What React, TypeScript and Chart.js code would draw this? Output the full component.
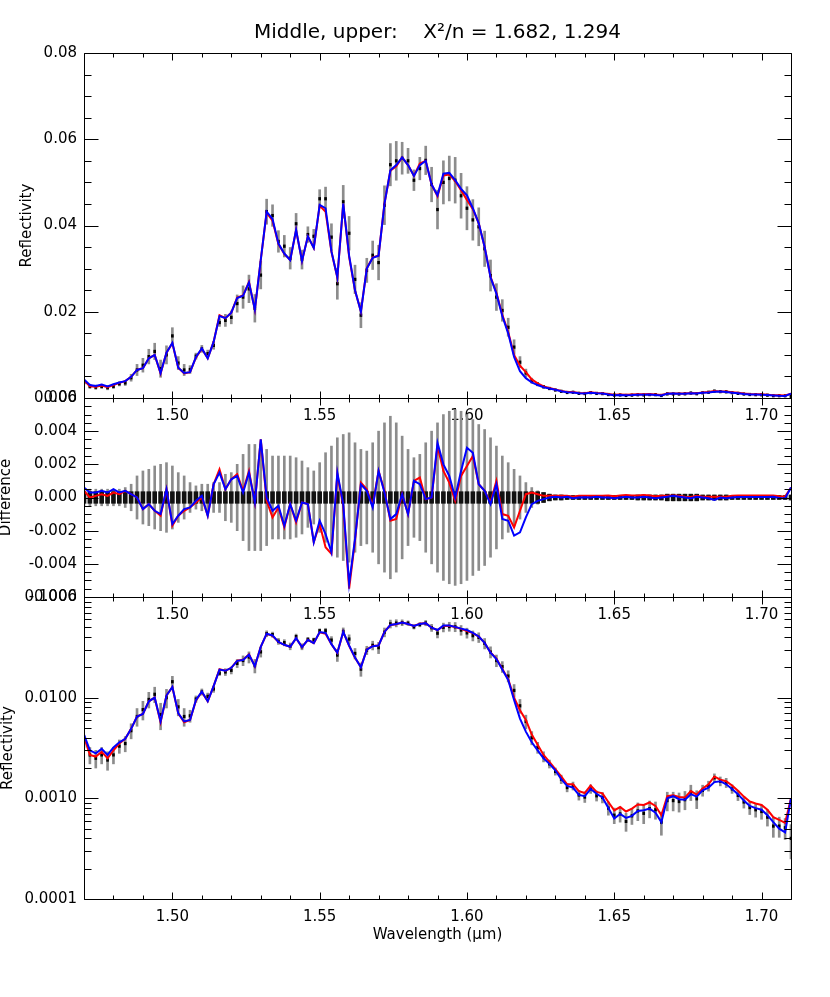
import React, { useEffect, useRef } from 'react';
import { Chart, registerables } from 'chart.js';

Chart.register(...registerables);

// ---------------- data ----------------
const WAVELENGTH = [
  1.470, 1.472, 1.474, 1.476, 1.478, 1.480, 1.482, 1.484, 1.486, 1.488,
  1.490, 1.492, 1.494, 1.496, 1.498, 1.500, 1.502, 1.504, 1.506, 1.508,
  1.510, 1.512, 1.514, 1.516, 1.518, 1.520, 1.522, 1.524, 1.526, 1.528,
  1.530, 1.532, 1.534, 1.536, 1.538, 1.540, 1.542, 1.544, 1.546, 1.548,
  1.550, 1.552, 1.554, 1.556, 1.558, 1.560, 1.562, 1.564, 1.566, 1.568,
  1.570, 1.572, 1.574, 1.576, 1.578, 1.580, 1.582, 1.584, 1.586, 1.588,
  1.590, 1.592, 1.594, 1.596, 1.598, 1.600, 1.602, 1.604, 1.606, 1.608,
  1.610, 1.612, 1.614, 1.616, 1.618, 1.620, 1.622, 1.624, 1.626, 1.628,
  1.630, 1.632, 1.634, 1.636, 1.638, 1.640, 1.642, 1.644, 1.646, 1.648,
  1.650, 1.652, 1.654, 1.656, 1.658, 1.660, 1.662, 1.664, 1.666, 1.668,
  1.670, 1.672, 1.674, 1.676, 1.678, 1.680, 1.682, 1.684, 1.686, 1.688,
  1.690, 1.692, 1.694, 1.696, 1.698, 1.700, 1.702, 1.704, 1.706, 1.708,
  1.710,
];

// blue model reflectivity
const MODEL_BLUE = [
  0.0043, 0.0030, 0.0028, 0.0031, 0.0027, 0.0032, 0.0036, 0.0039, 0.0049, 0.0065,
  0.0069, 0.0092, 0.0100, 0.0058, 0.0105, 0.0128, 0.0070, 0.0058, 0.0060, 0.0095,
  0.0115, 0.0092, 0.0130, 0.0190, 0.0185, 0.0198, 0.0232, 0.0237, 0.0268, 0.0205,
  0.0320, 0.0432, 0.0415, 0.0358, 0.0335, 0.0320, 0.0390, 0.0318, 0.0375, 0.0348,
  0.0448, 0.0440, 0.0340, 0.0280, 0.0451, 0.0330, 0.0250, 0.0200, 0.0300, 0.0325,
  0.0330, 0.0450, 0.0528, 0.0540, 0.0558, 0.0540, 0.0515, 0.0540, 0.0550, 0.0495,
  0.0470, 0.0520, 0.0522, 0.0505, 0.0485, 0.0470, 0.0440, 0.0405, 0.0350, 0.0280,
  0.0242, 0.0190, 0.0150, 0.0095, 0.0062, 0.0046, 0.0036, 0.0030, 0.0025, 0.0022,
  0.00190, 0.00155, 0.00133, 0.00128, 0.00108, 0.00105, 0.00124, 0.00111, 0.00102, 0.00080,
  0.00063, 0.00070, 0.00064, 0.00067, 0.00075, 0.00076, 0.00079, 0.00072, 0.00058, 0.00100,
  0.00105, 0.00098, 0.00097, 0.00110, 0.00104, 0.00120, 0.00128, 0.00145, 0.00148, 0.00138,
  0.00124, 0.00110, 0.00095, 0.00084, 0.00080, 0.00077, 0.00068, 0.00058, 0.00050, 0.00046,
  0.00100,
];

// blue model minus observed
const RESID_BLUE = [
  0.0006, 0.0003, 0.0003, 0.0004, 0.0003, 0.0005, 0.0003, 0.0004, 0.0002, 0.0000,
  -0.0007, -0.0004, -0.0008, -0.0010, 0.0005, -0.0016, -0.0011, -0.0007, -0.0006, -0.0002,
  0.0001, -0.0011, 0.0008, 0.0015, 0.0005, 0.0011, 0.0013, 0.0003, 0.0015, -0.0003,
  0.0035, 0.0000, -0.0008, -0.0005, -0.0017, -0.0004, -0.0014, -0.0003, -0.0004, -0.0027,
  -0.0014, -0.0022, -0.0033, 0.0015, -0.0004, -0.0052, -0.0025, 0.0008, 0.0004, -0.0006,
  0.0016, 0.0003, -0.0013, -0.0010, 0.0002, -0.0010, 0.0010, 0.0008, -0.0001, 0.0000,
  0.0033, 0.0020, 0.0013, 0.0000, 0.0016, 0.0030, 0.0027, 0.0008, 0.0004, -0.0004,
  0.0008, -0.0013, -0.0014, -0.0023, -0.0021, -0.0012, -0.0004, -0.0002, -0.0001, 0.0000,
  0.00005, 0.0, 0.00005, -0.00005, 0.0, 0.00002, 0.0, 0.00005, 0.0, 0.0,
  -0.00005, 0.0, 0.00005, 0.0, 0.0, 0.00005, 0.0, -0.00005, 0.0, 0.00005,
  0.0001, 0.00005, 0.0, -0.00005, 0.00005, 0.0, -0.00005, -0.00015, 0.0, -0.00005,
  0.0, 0.00003, 0.00003, 0.00003, 0.00003, 0.00003, 0.00003, 0.00005, -0.00003, -0.00005,
  0.0006,
];

// red model minus observed
const RESID_RED = [
  0.0004, 0.0000, 0.0001, 0.0002, 0.0001, 0.0003, 0.0002, 0.0004, 0.0002, 0.0000,
  -0.0007, -0.0004, -0.0008, -0.0011, 0.0005, -0.0017, -0.0011, -0.0008, -0.0006, -0.0003,
  0.0000, -0.0011, 0.0008, 0.0017, 0.0005, 0.0011, 0.0014, 0.0004, 0.0016, -0.0003,
  0.0035, -0.0002, -0.0012, -0.0006, -0.0018, -0.0004, -0.0015, -0.0003, -0.0004, -0.0027,
  -0.0016, -0.0030, -0.0034, 0.0014, -0.0005, -0.0055, -0.0026, 0.0009, 0.0005, -0.0005,
  0.0016, 0.0004, -0.0014, -0.0013, 0.0002, -0.0010, 0.0010, 0.0012, -0.0001, 0.0000,
  0.0031, 0.0016, 0.0009, -0.0002, 0.0013, 0.0019, 0.0025, 0.0008, 0.0004, -0.0003,
  0.0010, -0.0010, -0.0011, -0.0018, -0.0008, 0.0002, 0.0003, 0.0002, 0.0001, 0.0001,
  0.0001, 0.0001, 0.0001, 0.00005, 0.0001, 0.0001, 0.0001, 0.0001, 0.0001, 0.00012,
  0.00008, 0.00012, 0.00015, 0.00012, 0.00012, 0.00015, 0.00012, 0.00007, 0.0001, 0.0001,
  0.00012, 0.0001, 0.00005, 0.00003, 0.0001, 0.00005, 0.00005, 0.00005, 0.00005, 0.00005,
  0.0001, 0.00012, 0.00012, 0.00012, 0.00012, 0.00012, 0.00012, 0.00012, 0.00008, 0.00006,
  0.0006,
];

// 1-sigma uncertainty of the observation
const SIGMA = [
  0.0005, 0.0005, 0.0005, 0.0005, 0.0005, 0.0005, 0.0005, 0.0006, 0.0008, 0.0013,
  0.0016, 0.0017, 0.0019, 0.0020, 0.0021, 0.0019, 0.0015, 0.0013, 0.0009, 0.0007,
  0.0008, 0.0008, 0.0009, 0.0009, 0.0014, 0.0015, 0.0020, 0.0026, 0.0032, 0.0032,
  0.0032, 0.0029, 0.0025, 0.0025, 0.0025, 0.0025, 0.0024, 0.0022, 0.0018, 0.0016,
  0.0021, 0.0027, 0.0031, 0.0036, 0.0038, 0.0039, 0.0033, 0.0029, 0.0028, 0.0033,
  0.0040, 0.0045, 0.0049, 0.0045, 0.0037, 0.0029, 0.0024, 0.0026, 0.0033, 0.0040,
  0.0045, 0.0050, 0.0052, 0.0053, 0.0052, 0.0050, 0.0047, 0.0044, 0.0041, 0.0036,
  0.0031, 0.0025, 0.0021, 0.0017, 0.0013, 0.0009, 0.0006, 0.0004, 0.0003, 0.0002,
  0.00015, 0.00015, 0.00012, 0.00012, 0.00012, 0.00012, 0.00012, 0.00012, 0.00012, 0.00012,
  0.00012, 0.00012, 0.00012, 0.00012, 0.00015, 0.00015, 0.00015, 0.00015, 0.00015, 0.0002,
  0.0002, 0.0002, 0.0002, 0.0002, 0.0002, 0.00015, 0.00015, 0.00015, 0.00015, 0.00015,
  0.00012, 0.00012, 0.00012, 0.00012, 0.00012, 0.00012, 0.00012, 0.00012, 0.00012, 0.00012,
  0.00015,
];

const X_TICKS = [1.50, 1.55, 1.60, 1.65, 1.70];
const TOP_Y_TICKS = [0.00, 0.02, 0.04, 0.06, 0.08];
const MID_Y_TICKS = [-0.006, -0.004, -0.002, 0.000, 0.002, 0.004, 0.006];
const LOG_Y_TICKS = [0.0001, 0.001, 0.01, 0.1];

const TITLE = 'Middle, upper:    X\u00B2/n = 1.682, 1.294';
const Y_TITLE_REFL = 'Reflectivity';
const Y_TITLE_DIFF = 'Difference';
const X_TITLE = 'Wavelength (\u03BCm)';

// ---------------- derived tables ----------------
const OBSERVED = MODEL_BLUE.map((b, i) => b - RESID_BLUE[i]);
const MODEL_RED = OBSERVED.map((o, i) => o + RESID_RED[i]);

// minor tick positions (axis decoration)
const X_MINOR: number[] = [];
for (let k = 147; k <= 171; k++) if (k % 5 !== 0) X_MINOR.push(k / 100);
const TOP_Y_MINOR: number[] = [];
for (let k = 1; k < 16; k++) if (k % 4 !== 0) TOP_Y_MINOR.push(k * 0.005);
const MID_Y_MINOR: number[] = [];
for (let k = -11; k < 12; k++) if (k % 4 !== 0) MID_Y_MINOR.push(k * 0.0005);
const LOG_Y_MINOR: number[] = [];
for (const d of [1e-4, 1e-3, 1e-2]) for (let m = 2; m <= 9; m++) LOG_Y_MINOR.push(m * d);

// ---------------- layout ----------------
const W = 830;
const H = 997;
const PLOT_LEFT = 84;
const PLOT_RIGHT = 791;
const FONT = 'DejaVu Sans';
const BLUE = '#0000ff';
const RED = '#ff0000';
const GRAY = '#8c8c8c';

const pts = (ys: number[]) => WAVELENGTH.map((x, i) => ({ x, y: ys[i] }));
const ranges = (lo: number[], hi: number[]) => WAVELENGTH.map((x, i) => ({ x, y: [lo[i], hi[i]] }));

const framePlugin = {
  id: 'idlFrame',
  afterDatasetsDraw(chart: any, _args: any, opts: any) {
    const { ctx, chartArea: a } = chart;
    const xs = chart.scales.x;
    const ys = chart.scales.y;
    const r = (v: number) => Math.round(v) + 0.5;
    const L = r(a.left), R = r(a.right), T = r(a.top), B = r(a.bottom);
    ctx.save();
    ctx.strokeStyle = '#000';
    ctx.lineWidth = 1;
    ctx.beginPath();
    const seg = (x1: number, y1: number, x2: number, y2: number) => { ctx.moveTo(x1, y1); ctx.lineTo(x2, y2); };
    seg(L, T, R, T); seg(R, T, R, B); seg(R, B, L, B); seg(L, B, L, T);
    for (const v of opts.xMajor) { const p = r(xs.getPixelForValue(v)); seg(p, B, p, B - 7); seg(p, T, p, T + 7); }
    for (const v of opts.xMinor) { const p = r(xs.getPixelForValue(v)); seg(p, B, p, B - 4); seg(p, T, p, T + 4); }
    for (const v of opts.yMajor) { const p = r(ys.getPixelForValue(v)); seg(L, p, L + 14, p); seg(R, p, R - 14, p); }
    for (const v of opts.yMinor) { const p = r(ys.getPixelForValue(v)); seg(L, p, L + 7, p); seg(R, p, R - 7, p); }
    ctx.stroke();
    ctx.restore();
  },
};

type PanelSpec = {
  top: number;
  bottom: number;
  padLeft: number;
  yTitle: string;
  yTitlePad: number;
  yType: 'linear' | 'logarithmic';
  yMin: number;
  yMax: number;
  yTicks: number[];
  yMinor: number[];
  yDigits: number;
  datasets: any[];
  title?: boolean;
  xTitle?: boolean;
};

function makeConfig(p: PanelSpec): any {
  const xH = p.xTitle ? 45 : 40;
  const titleFont = 20;
  const titleLH = titleFont * 1.2;
  const padTop = p.title ? 33 - titleLH / 2 : p.top;
  return {
    type: 'line',
    data: { datasets: p.datasets },
    plugins: [framePlugin],
    options: {
      animation: false,
      responsive: false,
      devicePixelRatio: 1,
      events: [],
      layout: {
        padding: { left: p.padLeft, right: W - PLOT_RIGHT, top: padTop, bottom: H - p.bottom - xH },
      },
      plugins: {
        legend: { display: false },
        tooltip: { enabled: false },
        title: p.title
          ? {
              display: true,
              text: TITLE,
              fullSize: false,
              color: '#000',
              font: { family: FONT, size: titleFont, weight: 'normal' },
              padding: { top: 0, bottom: p.top - padTop - titleLH },
            }
          : { display: false },
        idlFrame: { xMajor: X_TICKS, xMinor: X_MINOR, yMajor: p.yTicks, yMinor: p.yMinor },
      },
      scales: {
        x: {
          type: 'linear',
          position: 'bottom',
          min: 1.47,
          max: 1.71,
          offset: false,
          grid: { display: false, drawTicks: false },
          border: { display: false },
          ticks: {
            color: '#000',
            padding: 9,
            maxRotation: 0,
            autoSkip: false,
            font: { family: FONT, size: 15 },
            callback: (v: any) => Number(v).toFixed(2),
          },
          afterBuildTicks: (s: any) => { s.ticks = X_TICKS.map((value) => ({ value })); },
          afterFit: (s: any) => { s.height = xH; },
          title: p.xTitle
            ? { display: true, text: X_TITLE, color: '#000', font: { family: FONT, size: 15 }, padding: { top: 0, bottom: 0 } }
            : { display: false },
        },
        y: {
          type: p.yType,
          position: 'left',
          min: p.yMin,
          max: p.yMax,
          beginAtZero: false,
          grid: { display: false, drawTicks: false },
          border: { display: false },
          ticks: {
            color: '#000',
            padding: 7,
            autoSkip: false,
            font: { family: FONT, size: 15 },
            callback: (v: any) => Number(v).toFixed(p.yDigits),
          },
          afterBuildTicks: (s: any) => { s.ticks = p.yTicks.map((value) => ({ value })); },
          afterFit: (s: any) => { s.width = PLOT_LEFT - p.padLeft; },
          title: {
            display: true,
            text: p.yTitle,
            color: '#000',
            font: { family: FONT, size: 15 },
            padding: { top: p.yTitlePad, bottom: 0 },
          },
        },
      },
    },
  };
}

const lineDs = (label: string, data: any[], color: string, order: number) => ({
  type: 'line',
  label,
  data,
  borderColor: color,
  backgroundColor: color,
  borderWidth: 2,
  pointRadius: 0,
  tension: 0,
  fill: false,
  order,
});

const barDs = (label: string, data: any[], color: string, order: number, thickness: number) => ({
  type: 'bar',
  label,
  data,
  backgroundColor: color,
  borderWidth: 0,
  barThickness: thickness,
  grouped: false,
  order,
});

function spectrumDatasets(log: boolean) {
  const errLo = OBSERVED.map((o, i) => o - SIGMA[i]);
  const errHi = OBSERVED.map((o, i) => o + SIGMA[i]);
  const mkLo = OBSERVED.map((o) => (log ? o / 1.03 : o - 0.0003));
  const mkHi = OBSERVED.map((o) => (log ? o * 1.03 : o + 0.0003));
  return [
    lineDs('blue model', pts(MODEL_BLUE), BLUE, 0),
    lineDs('red model', pts(MODEL_RED), RED, 1),
    barDs('observed', ranges(mkLo, mkHi), '#000000', 2, 2),
    barDs('uncertainty', ranges(errLo, errHi), GRAY, 3, 2),
  ];
}

function residualDatasets() {
  const lo = SIGMA.map((s) => -s);
  const hi = SIGMA.map((s) => s);
  const bandLo = SIGMA.map((s) => -Math.min(s, 0.00035));
  const bandHi = SIGMA.map((s) => Math.min(s, 0.00035));
  return [
    lineDs('blue residual', pts(RESID_BLUE), BLUE, 0),
    lineDs('red residual', pts(RESID_RED), RED, 1),
    barDs('zero', ranges(bandLo, bandHi), '#111111', 2, 4),
    barDs('uncertainty', ranges(lo, hi), GRAY, 3, 2),
  ];
}

export default function App() {
  const r1 = useRef<HTMLCanvasElement>(null);
  const r2 = useRef<HTMLCanvasElement>(null);
  const r3 = useRef<HTMLCanvasElement>(null);

  useEffect(() => {
    const charts: Chart[] = [];
    const topCfg = makeConfig({
      top: 53, bottom: 398, padLeft: 18, yTitle: Y_TITLE_REFL, yTitlePad: 0,
      yType: 'linear', yMin: 0, yMax: 0.08, yTicks: TOP_Y_TICKS, yMinor: TOP_Y_MINOR, yDigits: 2,
      datasets: spectrumDatasets(false), title: true,
    });
    const midCfg = makeConfig({
      top: 398, bottom: 597, padLeft: 0, yTitle: Y_TITLE_DIFF, yTitlePad: -3,
      yType: 'linear', yMin: -0.006, yMax: 0.006, yTicks: MID_Y_TICKS, yMinor: MID_Y_MINOR, yDigits: 3,
      datasets: residualDatasets(),
    });
    const botCfg = makeConfig({
      top: 597, bottom: 899, padLeft: 0, yTitle: Y_TITLE_REFL, yTitlePad: -1,
      yType: 'logarithmic', yMin: 0.0001, yMax: 0.1, yTicks: LOG_Y_TICKS, yMinor: LOG_Y_MINOR, yDigits: 4,
      datasets: spectrumDatasets(true), xTitle: true,
    });
    if (r1.current) charts.push(new Chart(r1.current, topCfg));
    if (r2.current) charts.push(new Chart(r2.current, midCfg));
    if (r3.current) charts.push(new Chart(r3.current, botCfg));
    return () => charts.forEach((c) => c.destroy());
  }, []);

  const cs: React.CSSProperties = { position: 'absolute', left: 0, top: 0 };
  return (
    <div style={{ position: 'fixed', left: 0, top: 0, width: W, height: H, background: '#fff', overflow: 'hidden' }}>
      <canvas ref={r1} width={W} height={H} style={cs} />
      <canvas ref={r2} width={W} height={H} style={cs} />
      <canvas ref={r3} width={W} height={H} style={cs} />
    </div>
  );
}
